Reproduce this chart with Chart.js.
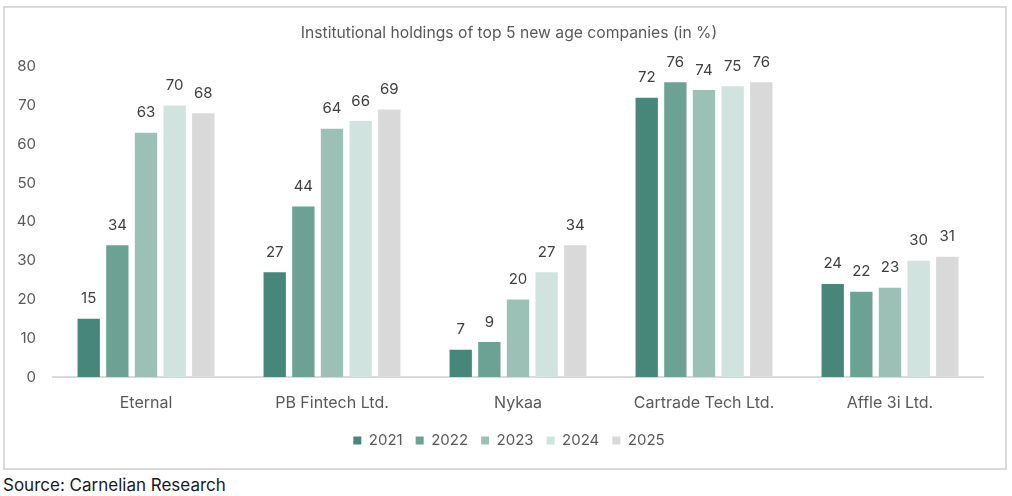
<!DOCTYPE html>
<html>
<head>
<meta charset="utf-8">
<script src="https://cdn.jsdelivr.net/npm/chart.js@4"></script>
<style>
  html, body { margin: 0; padding: 0; background: #ffffff; width: 1012px; height: 496px; overflow: hidden; }
  #box { position: absolute; left: 3px; top: 6px; width: 1000px; height: 460px; border: 2px solid #d9d9d9; box-sizing: content-box; }
  #box canvas { display: block; }
  #source { position: absolute; left: 3px; top: 475px; font-family: Inter, "Noto Sans", sans-serif; font-size: 17px; color: #1a1a1a; }
</style>
</head>
<body>
<div id="box"><canvas id="c" width="1000" height="460"></canvas></div>
<div id="source">Source: Carnelian Research</div>
<script>
const chartTitle = "Institutional holdings of top 5 new age companies (in %)";
const categories = ["Eternal", "PB Fintech Ltd.", "Nykaa", "Cartrade Tech Ltd.", "Affle 3i Ltd."];
const seriesNames = ["2021", "2022", "2023", "2024", "2025"];
const values2021 = [15, 27, 7, 72, 24];
const values2022 = [34, 44, 9, 76, 22];
const values2023 = [63, 64, 20, 74, 23];
const values2024 = [70, 66, 27, 75, 30];
const values2025 = [68, 69, 34, 76, 31];
const seriesColors = ["#47877a", "#6ba294", "#9bc1b7", "#d1e3de", "#d9d9d9"];
const yTicks = [0, 10, 20, 30, 40, 50, 60, 70, 80];

const FONT = "Inter, 'Noto Sans', sans-serif";
const allValues = [values2021, values2022, values2023, values2024, values2025];

const labelPlugin = {
  id: 'barLabels',
  afterDatasetsDraw(chart) {
    const ctx = chart.ctx;
    ctx.save();
    ctx.font = "15px " + FONT;
    ctx.fillStyle = "#404040";
    ctx.textAlign = "center";
    ctx.textBaseline = "middle";
    chart.data.datasets.forEach((ds, i) => {
      const meta = chart.getDatasetMeta(i);
      meta.data.forEach((bar, j) => {
        ctx.fillText(String(ds.data[j]), bar.x, bar.y - 20);
      });
    });
    ctx.restore();
  }
};

// centre the title and legend on the whole box rather than on the padded area
const centerShiftPlugin = {
  id: 'centerShift',
  afterLayout(chart) {
    const dx = 15;
    [chart.titleBlock, chart.legend].forEach(b => {
      if (b) { b.left += dx; b.right += dx; }
    });
  }
};

new Chart(document.getElementById('c'), {
  type: 'bar',
  data: {
    labels: categories,
    datasets: seriesNames.map((n, i) => ({
      label: n,
      data: allValues[i],
      backgroundColor: seriesColors[i],
      borderWidth: 0,
      categoryPercentage: 0.77,
      barPercentage: 0.78
    }))
  },
  options: {
    responsive: false,
    animation: false,
    devicePixelRatio: 1,
    layout: { padding: { left: 0, right: 22, top: 0, bottom: 10 } },
    plugins: {
      title: {
        display: true,
        text: chartTitle,
        color: "#595959",
        font: { family: FONT, size: 15.7, weight: 'normal' },
        padding: { top: 16, bottom: 24 }
      },
      legend: {
        display: true,
        position: 'bottom',
        labels: {
          boxWidth: 8,
          boxHeight: 8,
          padding: 13,
          color: "#595959",
          font: { family: FONT, size: 15 }
        }
      },
      tooltip: { enabled: false }
    },
    scales: {
      x: {
        grid: { display: false, drawTicks: false },
        border: { display: true, color: "#d9d9d9", width: 2 },
        ticks: { color: "#595959", font: { family: FONT, size: 16 }, padding: 17 },
        afterFit(s) { s.height = 43; }
      },
      y: {
        min: 0,
        max: 80,
        afterBuildTicks(s) { s.ticks = yTicks.map(v => ({ value: v })); },
        grid: { display: false, drawTicks: false },
        border: { display: false },
        ticks: { color: "#595959", font: { family: FONT, size: 15 }, padding: 17 },
        afterFit(s) { s.width = 48; }
      }
    }
  },
  plugins: [labelPlugin, centerShiftPlugin]
});
</script>
</body>
</html>
